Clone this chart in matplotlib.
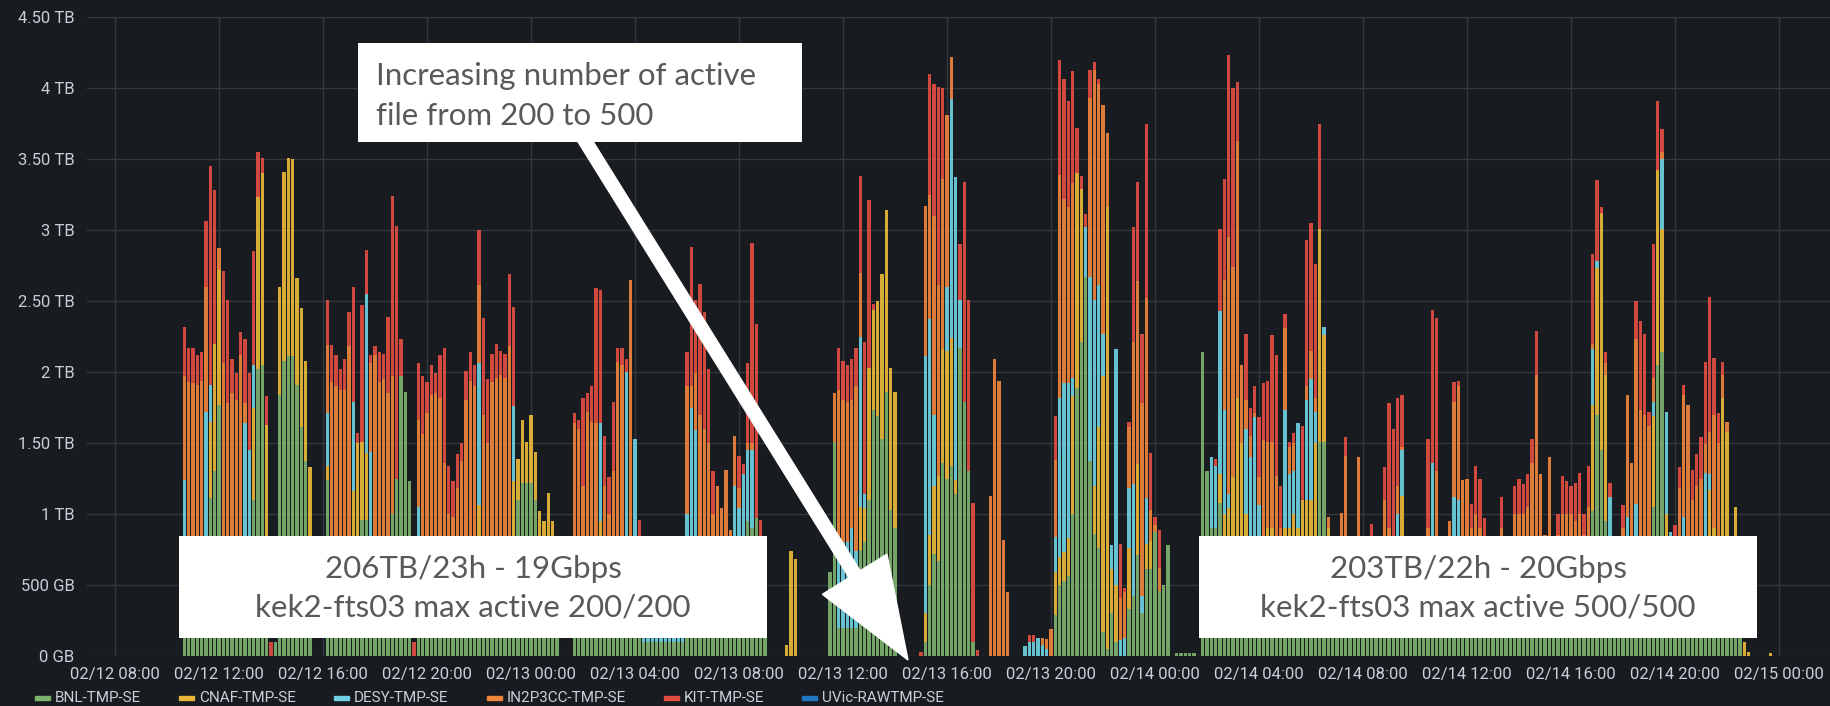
import numpy as np
import matplotlib
matplotlib.use('Agg')
import matplotlib.pyplot as plt
from matplotlib.patches import Rectangle, FancyArrow
from matplotlib.transforms import IdentityTransform

# Transfer volume per 10-minute bin, in hundredths of a TB.
# Bin 0 starts at 02/12 10:40, one bin every 10 minutes.
bnl = [
    15, 15, 15, 15, 15, 15, 111, 130, 177, 30,
    20, 20, 20, 20, 20, 20, 110, 202, 205, 20,
    0, 10, 184, 208, 211, 211, 191, 161, 137, 20,
    0, 0, 0, 124, 30, 30, 30, 30, 30, 30,
    30, 96, 96, 30, 30, 30, 30, 30, 100, 125,
    197, 186, 123, 0, 30, 30, 30, 30, 30, 30,
    30, 30, 30, 30, 30, 30, 30, 30, 30, 30,
    30, 30, 30, 30, 30, 30, 60, 110, 122, 122,
    122, 110, 80, 70, 65, 60, 20, 0, 0, 0,
    30, 30, 30, 30, 30, 30, 60, 30, 30, 30,
    30, 30, 30, 30, 30, 20, 10, 10, 10, 10,
    10, 10, 10, 10, 10, 10, 30, 30, 30, 30,
    30, 30, 30, 30, 30, 30, 30, 20, 20, 20,
    95, 90, 97, 80, 40, 0, 0, 0, 0, 0,
    0, 0, 0, 0, 0, 0, 0, 0, 0, 59,
    151, 20, 20, 20, 20, 20, 75, 80, 110, 173,
    169, 153, 186, 103, 90, 0, 0, 0, 0, 0,
    0, 10, 50, 72, 67, 136, 125, 134, 114, 217,
    179, 130, 10, 0, 0, 0, 0, 0, 0, 0,
    0, 0, 0, 0, 0, 0, 0, 0, 0, 0,
    0, 29, 50, 53, 56, 100, 189, 221, 267, 137,
    86, 76, 17, 5, 30, 10, 0, 0, 33, 42,
    71, 30, 61, 61, 87, 46, 50, 78, 0, 2,
    2, 2, 2, 2, 0, 214, 130, 90, 90, 108,
    60, 60, 60, 70, 50, 50, 50, 50, 50, 60,
    60, 60, 60, 60, 60, 60, 60, 60, 50, 50,
    50, 50, 151, 151, 80, 50, 40, 50, 50, 50,
    60, 50, 50, 45, 50, 50, 55, 50, 50, 50,
    50, 60, 50, 55, 50, 50, 55, 50, 50, 50,
    50, 55, 50, 50, 50, 50, 50, 50, 50, 50,
    50, 50, 45, 50, 50, 50, 45, 50, 50, 50,
    50, 50, 50, 50, 50, 50, 50, 50, 50, 50,
    50, 50, 50, 50, 50, 102, 170, 145, 95, 50,
    50, 50, 50, 50, 50, 50, 50, 50, 50, 105,
    205, 214, 60, 50, 50, 50, 50, 50, 50, 50,
    50, 50, 50, 50, 50, 50, 50, 50, 50, 40,
    0, 0, 0, 0, 0, 0, 0,
]
cnaf = [
    0, 0, 0, 0, 0, 0, 54, 90, 95, 0,
    0, 0, 0, 0, 0, 0, 65, 121, 135, 143,
    0, 0, 76, 133, 140, 139, 75, 84, 71, 113,
    0, 0, 0, 10, 0, 0, 0, 0, 0, 86,
    120, 55, 47, 0, 0, 0, 0, 0, 0, 0,
    0, 0, 0, 0, 0, 0, 0, 0, 0, 0,
    0, 0, 0, 0, 0, 0, 0, 0, 76, 30,
    0, 0, 0, 0, 0, 0, 63, 29, 44, 29,
    48, 34, 22, 25, 50, 35, 0, 0, 0, 0,
    0, 0, 0, 0, 0, 0, 35, 0, 0, 0,
    0, 0, 0, 0, 0, 0, 0, 0, 0, 0,
    0, 0, 0, 0, 0, 0, 0, 0, 0, 0,
    0, 0, 0, 0, 0, 0, 0, 0, 0, 0,
    0, 0, 0, 0, 0, 0, 0, 0, 0, 8,
    74, 68, 0, 0, 0, 0, 0, 0, 0, 0,
    0, 0, 0, 0, 0, 0, 30, 24, 93, 71,
    81, 116, 128, 100, 96, 0, 0, 0, 0, 0,
    0, 20, 35, 48, 60, 80, 90, 90, 10, 0,
    0, 0, 0, 0, 0, 0, 0, 0, 0, 0,
    0, 0, 0, 0, 0, 0, 0, 0, 0, 0,
    0, 30, 20, 20, 27, 83, 151, 108, 0, 0,
    34, 85, 180, 311, 31, 40, 0, 0, 43, 0,
    64, 0, 18, 20, 0, 0, 0, 0, 0, 0,
    0, 0, 0, 0, 0, 0, 0, 0, 0, 20,
    40, 44, 66, 112, 100, 50, 0, 20, 30, 0,
    30, 30, 20, 0, 30, 30, 40, 30, 60, 60,
    60, 100, 150, 75, 10, 10, 20, 0, 0, 0,
    0, 0, 15, 0, 0, 20, 0, 20, 20, 30,
    20, 53, 0, 0, 0, 10, 10, 10, 0, 0,
    10, 0, 0, 20, 20, 0, 0, 0, 0, 0,
    0, 15, 20, 0, 0, 10, 0, 0, 0, 0,
    0, 0, 0, 0, 0, 0, 15, 0, 0, 0,
    0, 0, 0, 0, 0, 75, 103, 166, 103, 10,
    10, 0, 0, 0, 0, 0, 0, 0, 0, 64,
    137, 87, 40, 0, 0, 0, 0, 0, 0, 0,
    0, 0, 67, 40, 30, 132, 108, 20, 55, 10,
    10, 3, 0, 0, 0, 0, 2,
]
desy = [
    109, 0, 0, 0, 0, 157, 26, 0, 0, 0,
    0, 0, 0, 0, 144, 125, 30, 0, 0, 0,
    0, 0, 0, 0, 0, 0, 0, 0, 0, 0,
    0, 0, 0, 37, 0, 0, 0, 0, 0, 63,
    0, 0, 112, 114, 0, 0, 0, 0, 0, 0,
    0, 0, 0, 0, 75, 0, 0, 0, 0, 0,
    0, 0, 0, 0, 0, 0, 0, 0, 100, 0,
    0, 0, 0, 0, 0, 0, 53, 0, 0, 0,
    0, 0, 0, 0, 0, 0, 0, 0, 0, 0,
    0, 0, 0, 0, 0, 0, 69, 0, 0, 0,
    0, 0, 170, 0, 123, 0, 15, 25, 30, 20,
    25, 30, 20, 25, 15, 20, 70, 145, 129, 20,
    0, 0, 0, 0, 0, 0, 0, 100, 84, 108,
    50, 55, 0, 0, 0, 0, 0, 0, 0, 0,
    0, 0, 0, 0, 0, 0, 0, 0, 0, 0,
    0, 60, 60, 60, 70, 54, 120, 10, 0, 0,
    0, 0, 0, 0, 0, 0, 0, 0, 0, 0,
    0, 181, 152, 50, 0, 0, 45, 168, 213, 34,
    0, 0, 0, 0, 0, 0, 0, 0, 0, 0,
    0, 0, 0, 0, 7, 10, 10, 13, 8, 5,
    0, 25, 112, 119, 109, 13, 0, 0, 35, 130,
    131, 100, 30, 0, 17, 166, 11, 13, 42, 79,
    0, 12, 32, 0, 0, 0, 0, 0, 0, 0,
    0, 0, 0, 0, 0, 0, 0, 50, 44, 115,
    73, 10, 0, 0, 0, 60, 90, 98, 26, 0,
    0, 0, 0, 0, 83, 38, 30, 74, 0, 70,
    85, 22, 0, 6, 0, 0, 0, 0, 0, 20,
    0, 0, 0, 10, 0, 0, 15, 0, 0, 0,
    30, 32, 20, 25, 30, 0, 0, 0, 86, 0,
    0, 0, 0, 42, 40, 0, 0, 0, 0, 0,
    0, 0, 0, 15, 0, 0, 20, 0, 0, 0,
    0, 20, 0, 0, 0, 0, 0, 0, 0, 0,
    0, 0, 0, 0, 0, 39, 5, 0, 0, 52,
    0, 15, 0, 48, 0, 57, 0, 0, 0, 10,
    0, 49, 72, 37, 0, 0, 48, 0, 0, 0,
    0, 79, 11, 0, 0, 0, 0, 0, 0, 0,
    0, 0, 0, 0, 0, 0, 0,
]
in2p3 = [
    73, 178, 177, 176, 179, 88, 0, 0, 15, 176,
    158, 165, 160, 192, 14, 0, 0, 0, 0, 0,
    0, 0, 0, 0, 0, 0, 0, 0, 0, 0,
    0, 0, 0, 48, 163, 160, 157, 157, 188, 0,
    0, 0, 0, 62, 182, 163, 165, 155, 97, 0,
    0, 0, 0, 0, 61, 126, 141, 154, 155, 152,
    106, 70, 68, 88, 107, 150, 164, 160, 55, 110,
    120, 163, 166, 168, 166, 188, 0, 0, 0, 0,
    0, 0, 0, 0, 0, 0, 0, 0, 0, 0,
    134, 130, 90, 142, 135, 134, 0, 90, 70, 100,
    177, 175, 0, 235, 0, 0, 30, 35, 25, 40,
    30, 35, 30, 40, 35, 30, 90, 15, 40, 120,
    130, 120, 70, 90, 74, 101, 59, 35, 14, 0,
    5, 5, 0, 0, 0, 0, 0, 0, 0, 0,
    0, 0, 0, 0, 0, 0, 0, 0, 0, 0,
    34, 107, 100, 99, 90, 116, 45, 0, 0, 0,
    0, 0, 0, 0, 0, 0, 0, 0, 0, 0,
    0, 106, 88, 140, 134, 120, 121, 30, 0, 0,
    0, 0, 0, 0, 0, 0, 113, 209, 194, 82,
    45, 0, 0, 0, 0, 0, 0, 0, 5, 7,
    19, 54, 157, 130, 124, 137, 0, 0, 0, 126,
    162, 142, 161, 52, 0, 0, 30, 32, 43, 100,
    129, 136, 141, 22, 5, 16, 0, 0, 0, 0,
    0, 0, 0, 0, 0, 0, 0, 0, 0, 0,
    92, 181, 148, 181, 55, 20, 15, 3, 20, 92,
    61, 61, 47, 30, 58, 19, 20, 0, 0, 10,
    20, 10, 0, 0, 8, 0, 0, 51, 91, 0,
    0, 90, 0, 0, 30, 0, 0, 40, 20, 0,
    20, 2, 0, 0, 0, 0, 0, 30, 0, 80,
    0, 0, 45, 67, 80, 74, 75, 40, 50, 40,
    30, 0, 0, 0, 40, 0, 0, 50, 50, 50,
    55, 66, 148, 78, 35, 90, 0, 35, 50, 50,
    50, 45, 50, 35, 55, 4, 0, 1, 8, 0,
    0, 0, 40, 86, 86, 116, 123, 120, 112, 17,
    0, 5, 0, 0, 20, 68, 86, 127, 60, 70,
    75, 20, 30, 80, 70, 16, 7, 0, 0, 0,
    0, 0, 0, 0, 0, 0, 0,
]
kit = [
    35, 24, 25, 21, 20, 46, 154, 108, 0, 65,
    73, 24, 19, 16, 45, 54, 80, 32, 11, 20,
    10, 0, 0, 0, 0, 0, 0, 0, 0, 0,
    0, 0, 0, 32, 26, 22, 15, 22, 24, 81,
    7, 96, 31, 6, 6, 21, 18, 54, 127, 178,
    26, 0, 0, 10, 40, 41, 22, 21, 14, 30,
    81, 34, 25, 24, 13, 21, 20, 15, 39, 68,
    45, 20, 24, 17, 17, 51, 70, 0, 0, 0,
    0, 0, 0, 0, 0, 0, 0, 0, 0, 0,
    7, 6, 62, 13, 25, 95, 94, 35, 26, 49,
    10, 12, 9, 0, 0, 76, 0, 0, 0, 0,
    0, 0, 0, 0, 0, 0, 24, 98, 52, 92,
    82, 52, 30, 0, 0, 0, 0, 0, 23, 7,
    56, 141, 137, 16, 0, 0, 0, 0, 0, 0,
    0, 0, 0, 0, 0, 0, 0, 0, 0, 0,
    0, 30, 28, 26, 29, 27, 68, 107, 118, 4,
    0, 0, 0, 0, 0, 0, 0, 0, 0, 0,
    3, 0, 85, 93, 140, 64, 0, 0, 0, 39,
    155, 121, 98, 4, 0, 0, 0, 0, 0, 0,
    0, 0, 0, 0, 0, 5, 5, 0, 0, 0,
    0, 31, 81, 84, 75, 79, 32, 9, 9, 20,
    5, 3, 0, 0, 0, 0, 38, 3, 4, 81,
    70, 49, 123, 40, 6, 27, 0, 0, 0, 0,
    0, 0, 0, 0, 0, 0, 0, 0, 5, 58,
    71, 128, 126, 41, 0, 47, 20, 19, 42, 40,
    43, 75, 85, 30, 10, 4, 7, 0, 52, 103,
    90, 94, 74, 0, 0, 0, 0, 0, 13, 0,
    0, 0, 0, 0, 13, 0, 0, 23, 88, 80,
    62, 37, 0, 0, 0, 0, 0, 63, 108, 108,
    0, 0, 0, 14, 4, 0, 0, 17, 34, 35,
    17, 0, 0, 0, 22, 0, 0, 20, 25, 21,
    23, 17, 31, 0, 0, 0, 0, 15, 27, 23,
    20, 27, 29, 15, 29, 63, 57, 4, 8, 10,
    0, 0, 16, 0, 0, 27, 63, 57, 10, 94,
    49, 16, 0, 0, 22, 15, 7, 0, 21, 22,
    29, 58, 95, 40, 21, 9, 0, 0, 0, 0,
    0, 0, 0, 0, 0, 0, 0,
]
# UVic-RAWTMP-SE moved nothing in this window
uvic = [0] * len(bnl)

series_names = ['BNL-TMP-SE', 'CNAF-TMP-SE', 'DESY-TMP-SE',
                'IN2P3CC-TMP-SE', 'KIT-TMP-SE', 'UVic-RAWTMP-SE']
series_colors = ['#7EB26D', '#EAB839', '#6ED0E0', '#EF843C', '#E24D42', '#1F78C1']

y_ticks = [0, 0.5, 1, 1.5, 2, 2.5, 3, 3.5, 4, 4.5]
y_labels = ['0 GB', '500 GB', '1 TB', '1.50 TB', '2 TB', '2.50 TB',
            '3 TB', '3.50 TB', '4 TB', '4.50 TB']
# hours after 02/12 08:00
x_ticks = list(range(0, 65, 4))
x_labels = ['02/12 08:00', '02/12 12:00', '02/12 16:00', '02/12 20:00',
            '02/13 00:00', '02/13 04:00', '02/13 08:00', '02/13 12:00',
            '02/13 16:00', '02/13 20:00', '02/14 00:00', '02/14 04:00',
            '02/14 08:00', '02/14 12:00', '02/14 16:00', '02/14 20:00',
            '02/15 00:00']

notes = [
    'Increasing number of active\nfile from 200 to 500',
    '206TB/23h - 19Gbps\nkek2-fts03 max active 200/200',
    '203TB/22h - 20Gbps\nkek2-fts03 max active 500/500',
]

BG = '#181b1f'
TXT = '#c7d0d9'
W, H = 1830, 706

fig = plt.figure(figsize=(W / 100, H / 100), dpi=100, facecolor=BG)
ax = fig.add_axes([87 / W, 50 / H, (W - 87) / W, (656 - 17) / H])
ax.set_facecolor(BG)

# bin centres in hours after 02/12 08:00 (first bin 10:40)
t = 2 + 40 / 60 + np.arange(len(bnl)) / 6.0
bottom = np.zeros(len(bnl))
for vals, color in zip([bnl, cnaf, desy, in2p3, kit, uvic], series_colors):
    v = np.array(vals, dtype=float) / 100.0
    ax.bar(t, v, width=0.78 / 6, bottom=bottom, color=color, alpha=0.92,
           linewidth=0, zorder=2)
    bottom += v

ax.set_xlim(-1.077, 65.96)
ax.set_ylim(0, 4.5)
ax.set_xticks(x_ticks)
ax.set_xticklabels(x_labels)
ax.set_yticks(y_ticks)
ax.set_yticklabels(y_labels)
ax.grid(True, color='#34373d', linewidth=1, zorder=0)
ax.set_axisbelow(True)
for s in ax.spines.values():
    s.set_visible(False)
ax.tick_params(length=0, colors=TXT, labelsize=12)
ax.tick_params(axis='x', pad=8)
ax.tick_params(axis='y', pad=9)
for lab in ax.get_xticklabels() + ax.get_yticklabels():
    lab.set_fontfamily('Roboto')

# legend drawn by hand along the bottom edge, items flowing left to right
renderer = fig.canvas.get_renderer()
x0 = 35
for name, color in zip(series_names, series_colors):
    fig.add_artist(Rectangle((x0, H - 700), 15, 4, color=color,
                             transform=IdentityTransform()))
    txt = fig.text((x0 + 20) / W, (H - 698) / H, name, color=TXT, fontsize=11,
                   family='Roboto', va='center', ha='left')
    x0 = txt.get_window_extent(renderer).x1 + 38

# annotation boxes
boxes = [(358, 43, 802, 142), (179, 536, 767, 638), (1199, 536, 1757, 638)]
for (bx0, by0, bx1, by1) in boxes:
    fig.add_artist(Rectangle((bx0, H - by1), bx1 - bx0, by1 - by0,
                             facecolor='white', edgecolor='none',
                             transform=IdentityTransform(), zorder=5))

l1, l2 = notes[0].split('\n')
fig.text(376 / W, (H - 85) / H, l1, color='#595959', fontsize=22.5,
         family='Lato', va='baseline', ha='left', zorder=6)
fig.text(376 / W, (H - 125) / H, l2, color='#595959', fontsize=22.5,
         family='Lato', va='baseline', ha='left', zorder=6)
for note, (bx0, by0, bx1, by1) in zip(notes[1:], boxes[1:]):
    a, b = note.split('\n')
    cx = (bx0 + bx1) / 2
    fig.text(cx / W, (H - 578) / H, a, color='#595959', fontsize=22.5,
             family='Lato', va='baseline', ha='center', zorder=6)
    fig.text(cx / W, (H - 617) / H, b, color='#595959', fontsize=22.5,
             family='Lato', va='baseline', ha='center', zorder=6)

# white arrow from the top note down to 02/13 16:00
fig.add_artist(FancyArrow(582, H - 136, 908 - 582, -(660 - 136), width=13,
                          head_width=76, head_length=101,
                          length_includes_head=True, color='white',
                          transform=IdentityTransform(), zorder=7))

fig.savefig('out.png', dpi=100, facecolor=BG)
